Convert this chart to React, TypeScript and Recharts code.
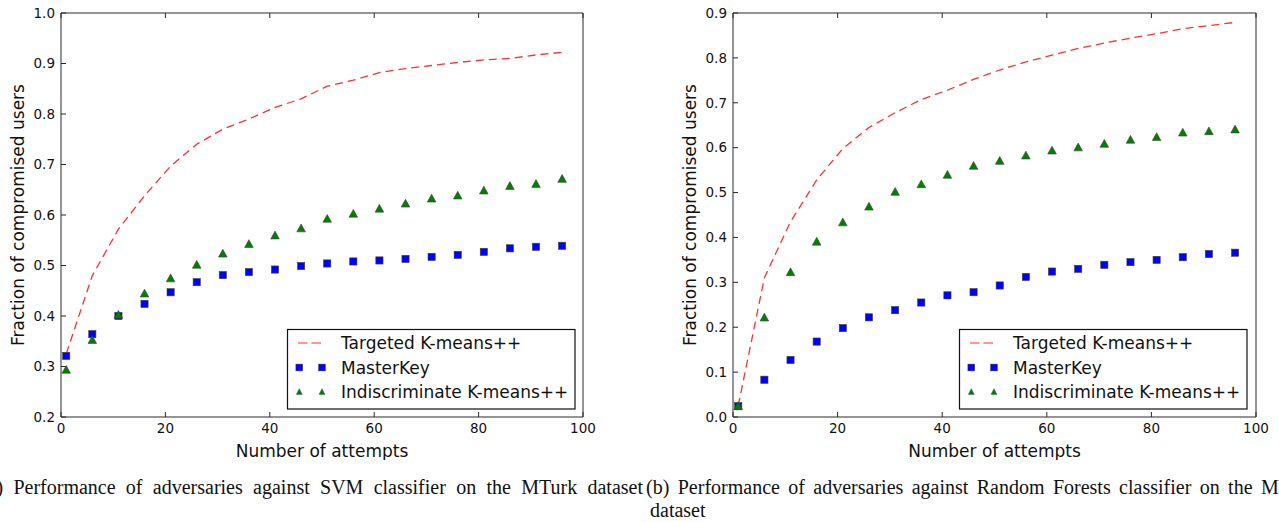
import React from 'react';
import { ComposedChart, Line, XAxis, YAxis, Legend } from 'recharts';

// ---------- data ----------
const attempts = [1, 6, 11, 16, 21, 26, 31, 36, 41, 46, 51, 56, 61, 66, 71, 76, 81, 86, 91, 96];

const svmTargeted = [0.325, 0.48, 0.572, 0.638, 0.697, 0.74, 0.77, 0.79, 0.813, 0.83, 0.855, 0.867, 0.882, 0.89, 0.896, 0.902, 0.907, 0.91, 0.917, 0.922];
const svmMasterKey = [0.321, 0.364, 0.4, 0.424, 0.447, 0.467, 0.481, 0.487, 0.492, 0.499, 0.504, 0.508, 0.51, 0.513, 0.517, 0.521, 0.527, 0.534, 0.537, 0.539];
const svmIndiscriminate = [0.293, 0.352, 0.402, 0.444, 0.474, 0.501, 0.523, 0.542, 0.559, 0.573, 0.592, 0.602, 0.612, 0.622, 0.632, 0.638, 0.648, 0.657, 0.661, 0.671];

const rfTargeted = [0.025, 0.31, 0.435, 0.528, 0.598, 0.645, 0.678, 0.707, 0.728, 0.752, 0.773, 0.791, 0.806, 0.821, 0.833, 0.844, 0.854, 0.865, 0.872, 0.879];
const rfMasterKey = [0.024, 0.083, 0.127, 0.168, 0.198, 0.222, 0.238, 0.255, 0.271, 0.278, 0.293, 0.312, 0.324, 0.33, 0.339, 0.345, 0.35, 0.356, 0.363, 0.366];
const rfIndiscriminate = [0.024, 0.221, 0.322, 0.39, 0.433, 0.468, 0.501, 0.518, 0.539, 0.559, 0.57, 0.582, 0.593, 0.6, 0.608, 0.617, 0.623, 0.633, 0.636, 0.64];

const xTicks = [0, 20, 40, 60, 80, 100];
const svmYTicks = [0.2, 0.3, 0.4, 0.5, 0.6, 0.7, 0.8, 0.9, 1.0];
const rfYTicks = [0.0, 0.1, 0.2, 0.3, 0.4, 0.5, 0.6, 0.7, 0.8, 0.9];

const seriesNames = ['Targeted K-means++', 'MasterKey', 'Indiscriminate K-means++'];
const xLabel = 'Number of attempts';
const yLabel = 'Fraction of compromised users';
const captionA = '(a) Performance of adversaries against SVM classifier on the MTurk dataset';
const captionB1 = '(b) Performance of adversaries against Random Forests classifier on the MTurk';
const captionB2 = 'dataset';

const svmData = attempts.map((x, i) => ({ x, targeted: svmTargeted[i], masterKey: svmMasterKey[i], indiscriminate: svmIndiscriminate[i] }));
const rfData = attempts.map((x, i) => ({ x, targeted: rfTargeted[i], masterKey: rfMasterKey[i], indiscriminate: rfIndiscriminate[i] }));

// ---------- styles ----------
const FONT = '"DejaVu Sans", "Bitstream Vera Sans", sans-serif';
const AXIS_COLOR = '#2a2a2a';
const TEXT_COLOR = '#111';
const RED = '#ff3030';
const BLUE = '#0000ff';
const GREEN = '#007f00';

const SquareDot = (props: any) => {
  const { cx, cy, index } = props;
  if (cx == null || cy == null) return <g key={`sqe-${index}`} />;
  return <rect key={`sq-${index}`} x={cx - 3.6} y={cy - 3.6} width={7.2} height={7.2} fill={BLUE} stroke="#404040" strokeWidth={0.6} />;
};

const TriangleDot = (props: any) => {
  const { cx, cy, index } = props;
  if (cx == null || cy == null) return <g key={`tre-${index}`} />;
  const pts = `${cx},${cy - 4.6} ${cx - 4.3},${cy + 3.2} ${cx + 4.3},${cy + 3.2}`;
  return <polygon key={`tr-${index}`} points={pts} fill={GREEN} stroke="#404040" strokeWidth={0.6} />;
};

const LegendBox = () => {
  const rows = [14, 38.5, 63];
  return (
    <svg width={290} height={82} style={{ display: 'block', overflow: 'visible' }}>
      <rect x={0.5} y={0.5} width={287.5} height={79.5} fill="#fff" stroke="#111" strokeWidth={1.2} />
      <line x1={11} x2={34} y1={rows[0]} y2={rows[0]} stroke={RED} strokeWidth={1.2} strokeDasharray="9.5 4" />
      <rect x={12.3 - 3.4} y={rows[1] - 3.4} width={6.8} height={6.8} fill={BLUE} stroke="#404040" strokeWidth={0.5} />
      <rect x={35 - 3.4} y={rows[1] - 3.4} width={6.8} height={6.8} fill={BLUE} stroke="#404040" strokeWidth={0.5} />
      <polygon points={`12.3,${rows[2] - 3.3} 9.3,${rows[2] + 2.4} 15.3,${rows[2] + 2.4}`} fill={GREEN} stroke="#404040" strokeWidth={0.4} />
      <polygon points={`35,${rows[2] - 3.3} 32,${rows[2] + 2.4} 38,${rows[2] + 2.4}`} fill={GREEN} stroke="#404040" strokeWidth={0.4} />
      {seriesNames.map((n, i) => (
        <text key={n} x={54} y={rows[i] + 6.2} fontSize={17} fill={TEXT_COLOR} fontFamily={FONT}>{n}</text>
      ))}
    </svg>
  );
};

type PanelProps = {
  data: any[];
  width: number;
  yDomain: [number, number];
  yTicks: number[];
  leftAxisWidth: number;
  rightAxisWidth: number;
  yLabelX: number;
  legendLeft: number;
};

const Panel = ({ data, width, yDomain, yTicks, leftAxisWidth, rightAxisWidth, yLabelX, legendLeft }: PanelProps) => {
  const tickStyle = { fontSize: 13.5, fill: TEXT_COLOR, fontFamily: FONT };
  const axisLine = { stroke: AXIS_COLOR, strokeWidth: 1 };
  return (
    <ComposedChart width={width} height={460} data={data} margin={{ top: 0, right: 0, bottom: 0, left: 0 }}>
      <XAxis
        xAxisId="b"
        dataKey="x"
        type="number"
        domain={[0, 100]}
        ticks={xTicks}
        interval={0}
        height={43}
        tickSize={-5}
        tickMargin={11}
        axisLine={axisLine}
        tickLine={axisLine}
        tick={tickStyle}
        label={{
          value: xLabel,
          content: (p: any) => {
            const vb = p.viewBox || {};
            return (
              <text x={vb.x + vb.width / 2} y={vb.y + 40} textAnchor="middle" fontSize={17} fill={TEXT_COLOR} fontFamily={FONT}>
                {xLabel}
              </text>
            );
          },
        }}
      />
      <XAxis
        xAxisId="t"
        orientation="top"
        dataKey="x"
        type="number"
        domain={[0, 100]}
        ticks={xTicks}
        interval={0}
        height={13}
        tickSize={-5}
        tickFormatter={() => ''}
        axisLine={axisLine}
        tickLine={axisLine}
      />
      <YAxis
        yAxisId="l"
        type="number"
        domain={yDomain}
        ticks={yTicks}
        interval={0}
        width={leftAxisWidth}
        tickSize={-5}
        tickMargin={11}
        tickFormatter={(v: number) => v.toFixed(1)}
        axisLine={axisLine}
        tickLine={axisLine}
        tick={tickStyle}
        label={{
          value: yLabel,
          content: (p: any) => {
            const vb = p.viewBox || {};
            const cx = vb.x + yLabelX;
            const cy = vb.y + vb.height / 2;
            return (
              <text x={cx} y={cy} transform={`rotate(-90 ${cx} ${cy})`} textAnchor="middle" dy="0.36em" fontSize={17} fill={TEXT_COLOR} fontFamily={FONT}>
                {yLabel}
              </text>
            );
          },
        }}
      />
      <YAxis
        yAxisId="r"
        orientation="right"
        type="number"
        domain={yDomain}
        ticks={yTicks}
        interval={0}
        width={rightAxisWidth}
        tickSize={-5}
        tickFormatter={() => ''}
        axisLine={axisLine}
        tickLine={axisLine}
      />
      <Legend
        layout="vertical"
        align="center"
        verticalAlign="middle"
        wrapperStyle={{ left: legendLeft, top: 329, width: 290, height: 82 }}
        content={() => <LegendBox />}
      />
      <Line
        xAxisId="b"
        yAxisId="l"
        name={seriesNames[0]}
        dataKey="targeted"
        type="linear"
        stroke={RED}
        strokeWidth={1.3}
        strokeDasharray="8 5"
        dot={false}
        activeDot={false}
        isAnimationActive={false}
      />
      <Line
        xAxisId="b"
        yAxisId="l"
        name={seriesNames[1]}
        dataKey="masterKey"
        stroke="none"
        dot={SquareDot}
        activeDot={false}
        isAnimationActive={false}
      />
      <Line
        xAxisId="b"
        yAxisId="l"
        name={seriesNames[2]}
        dataKey="indiscriminate"
        stroke="none"
        dot={TriangleDot}
        activeDot={false}
        isAnimationActive={false}
      />
    </ComposedChart>
  );
};

const captionStyle: React.CSSProperties = {
  position: 'absolute',
  fontFamily: '"Liberation Serif", "Times New Roman", serif',
  fontSize: 20,
  lineHeight: '23px',
  color: '#111',
  whiteSpace: 'nowrap',
};

export default function App() {
  return (
    <div style={{ position: 'absolute', left: 0, top: 0, width: 1279, height: 522, overflow: 'hidden', background: '#fff', fontFamily: FONT }}>
      <div style={{ position: 'absolute', left: 0, top: 0 }}>
        <Panel data={svmData} width={640} yDomain={[0.2, 1.0]} yTicks={svmYTicks} leftAxisWidth={61} rightAxisWidth={57} yLabelX={18} legendLeft={287} />
      </div>
      <div style={{ position: 'absolute', left: 640, top: 0 }}>
        <Panel data={rfData} width={639} yDomain={[0, 0.9]} yTicks={rfYTicks} leftAxisWidth={93} rightAxisWidth={23} yLabelX={50} legendLeft={319} />
      </div>
      <div style={{ ...captionStyle, right: 636, top: 476, textAlign: 'right', wordSpacing: '5.3px' }}>{captionA}</div>
      <div style={{ ...captionStyle, left: 646, top: 476, wordSpacing: '3.4px' }}>
        <div>{captionB1}</div>
        <div style={{ paddingLeft: 4 }}>{captionB2}</div>
      </div>
    </div>
  );
}
